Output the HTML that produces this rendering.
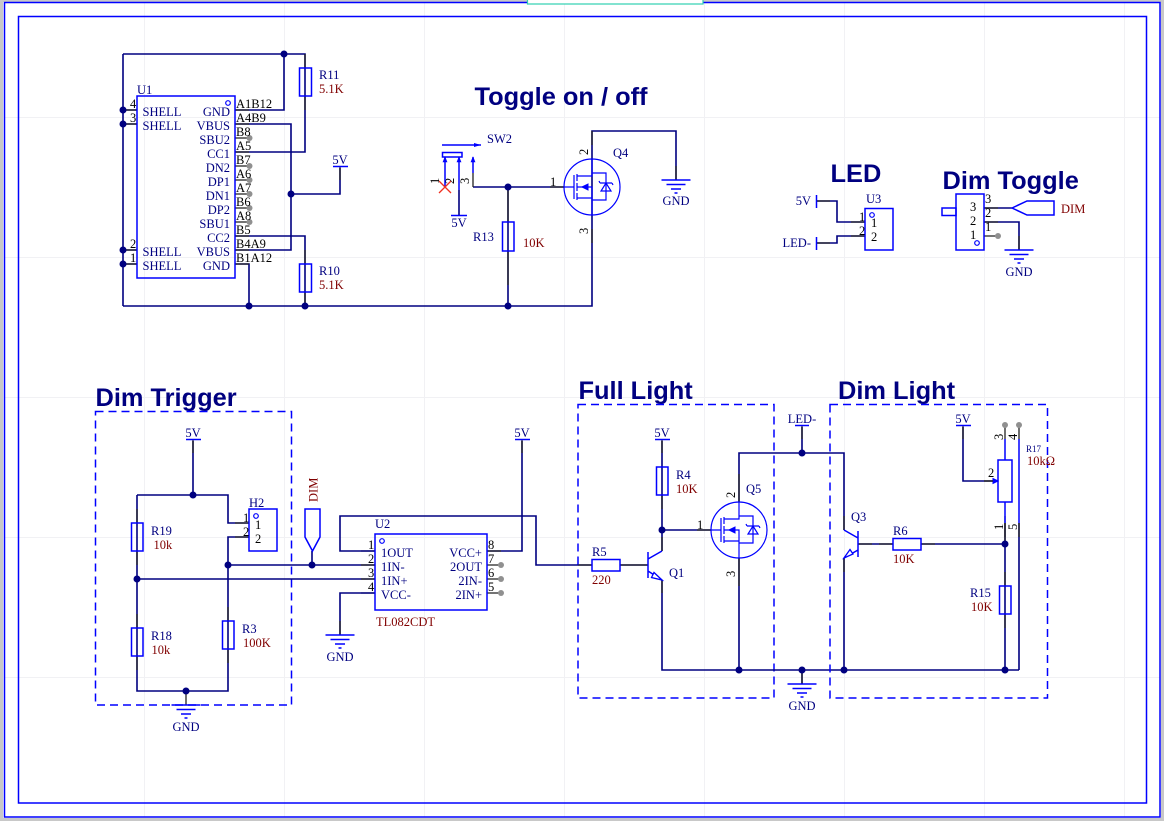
<!DOCTYPE html>
<html><head><meta charset="utf-8"><title>Schematic</title>
<style>
html,body{margin:0;padding:0;background:#fff;width:1164px;height:821px;overflow:hidden}
svg{display:block;position:absolute;left:0;top:0}
text{font-family:"Liberation Serif",serif;font-size:12.5px}
.r{fill:#000080}.v{fill:#800000}.b{fill:#000}.n{fill:#000080}
.t{font-family:"Liberation Sans",sans-serif;font-weight:700;font-size:25.4px;fill:#000080}
.m{text-anchor:middle}.e{text-anchor:end}
.w{fill:none;stroke:#000080;stroke-width:1.6}
.p{fill:none;stroke:#222;stroke-width:1.3}
.s{fill:none;stroke:#0000ff;stroke-width:1.5}
.bw{fill:none;stroke:#0000ff;stroke-width:1.2}
.d{fill:none;stroke:#0000ff;stroke-width:1.5;stroke-dasharray:8 5}
.j{fill:#000080}.nc{fill:#909090}
</style></head><body>
<svg width="1164" height="821" viewBox="0 0 1164 821" xmlns="http://www.w3.org/2000/svg">
<defs>
<g id="mos">
<circle cx="0" cy="0" r="28" class="bw"/>
<path class="bw" d="M-28 0H-18M-18 -12V12M-15 -13V-6M-15 -4V4M-15 6V13M-15 -11H0V-28M-15 11H0V28M-15 0H0V11M0 -14H14V13H0"/>
<path d="M-10 0L-4 -3V3Z" fill="#0000ff" stroke="#0000ff"/>
<path class="bw" d="M9 4H19L14 -4ZM8 -4H20M8 -4L7 -6M20 -4L21 -2"/>
</g>
<g id="gnd"><path class="s" d="M-14.500 0H14.500M-9.500 4.500H9.500M-5 9H5M-1.500 13H1.500"/></g>
</defs>

<!-- page chrome -->
<rect x="0" y="0" width="1164" height="821" fill="#c8c8c8"/>
<rect x="3" y="2" width="1158" height="816" fill="#fff"/>
<g stroke="#f1f1f4" stroke-width="1" fill="none">
<path d="M144.500 3V817M284.500 3V817M424.500 3V817M564.500 3V817M704.500 3V817M844.500 3V817M984.500 3V817M1124.500 3V817"/>
<path d="M4 117.500H1160M4 257.500H1160M4 397.500H1160M4 537.500H1160M4 677.500H1160"/>
</g>
<rect x="4.500" y="2.500" width="1155.500" height="814.500" fill="none" stroke="#0000ff" stroke-width="1.5"/>
<rect x="18.500" y="16.500" width="1128" height="786.500" fill="none" stroke="#0000ff" stroke-width="1.5"/>
<rect x="527.500" y="-2" width="175.500" height="6" fill="#fff" stroke="#2fd0b0" stroke-width="1.2"/>

<!-- ===== U1 ===== -->
<path class="w" d="M235 110H284V54M123 54H305V110M305 110V152H235M123 54V306M235 124H291V250H235M291 194H340V168M235 236H305V306M235 264H249V306M123 306H592V131H676V180M123 110H137M123 124H137M123 250H137M123 264H137"/>
<path class="p" d="M123 110H137M123 124H137M123 250H137M123 264H137M235 110H249M235 124H249M235 138H249M235 152H249M235 166H249M235 180H249M235 194H249M235 208H249M235 222H249M235 236H249M235 250H249M235 264H249M305 96V110M305 54V68M305 250V264M305 292V306M340 166V180"/>
<rect x="137" y="96" width="98" height="182" fill="none" class="s"/>
<circle cx="228" cy="103" r="2.300" class="bw"/>
<rect x="299.500" y="68" width="12" height="28" fill="#fff" class="s"/>
<rect x="299.500" y="264" width="12" height="28" fill="#fff" class="s"/>
<path class="s" d="M333 166.500H348"/>
<g class="nc"><circle cx="249.500" cy="138" r="3"/><circle cx="249.500" cy="166" r="3"/><circle cx="249.500" cy="180" r="3"/><circle cx="249.500" cy="194" r="3"/><circle cx="249.500" cy="208" r="3"/><circle cx="249.500" cy="222" r="3"/></g>
<g class="j"><circle cx="284" cy="54" r="3.500"/><circle cx="123" cy="110" r="3.500"/><circle cx="123" cy="124" r="3.500"/><circle cx="123" cy="250" r="3.500"/><circle cx="123" cy="264" r="3.500"/><circle cx="291" cy="194" r="3.500"/><circle cx="249" cy="306" r="3.500"/><circle cx="305" cy="306" r="3.500"/><circle cx="508" cy="306" r="3.500"/></g>
<text x="137" y="94" class="r">U1</text>
<text x="319" y="79" class="r">R11</text><text x="319" y="93" class="v">5.1K</text>
<text x="319" y="275" class="r">R10</text><text x="319" y="289" class="v">5.1K</text>
<text x="340" y="164" class="r m">5V</text>
<g class="b"><text x="130" y="108">4</text><text x="130" y="122">3</text><text x="130" y="248">2</text><text x="130" y="262">1</text></g>
<g class="n"><text x="142.500" y="116">SHELL</text><text x="142.500" y="130">SHELL</text><text x="142.500" y="256">SHELL</text><text x="142.500" y="270">SHELL</text>
<g class="e"><text x="230" y="116">GND</text><text x="230" y="130">VBUS</text><text x="230" y="144">SBU2</text><text x="230" y="158">CC1</text><text x="230" y="172">DN2</text><text x="230" y="186">DP1</text><text x="230" y="200">DN1</text><text x="230" y="214">DP2</text><text x="230" y="228">SBU1</text><text x="230" y="242">CC2</text><text x="230" y="256">VBUS</text><text x="230" y="270">GND</text></g></g>
<g class="b"><text x="236" y="108">A1B12</text><text x="236" y="122">A4B9</text><text x="236" y="136">B8</text><text x="236" y="150">A5</text><text x="236" y="164">B7</text><text x="236" y="178">A6</text><text x="236" y="192">A7</text><text x="236" y="206">B6</text><text x="236" y="220">A8</text><text x="236" y="234">B5</text><text x="236" y="248">B4A9</text><text x="236" y="262">B1A12</text></g>

<!-- ===== Toggle ===== -->
<text x="474.500" y="105" class="t">Toggle on / off</text>
<path class="w" d="M473 187H564M508 187V306M459 190V215"/>
<path class="p" d="M473 173V187M550 187H564M508 187V222M508 251V285M592 131V145M592 229V243M676 166V180"/>
<path class="s" d="M442 145H481"/><path d="M474 143L481 145L474 147Z" fill="#0000ff"/>
<rect x="442.500" y="152.500" width="19.500" height="4.500" fill="none" class="s"/>
<path class="s" d="M445 157V187M459 157V190M473 157V173M451 215.500H467"/>
<path d="M445 157L443 162H447ZM459 157L457 162H461ZM473 157L471 162H475Z" fill="#0000ff" stroke="#0000ff" stroke-width=".6"/>
<path d="M439 181L451 193M451 181L439 193" stroke="#f03020" stroke-width="1.300" fill="none"/>
<g class="b"><text transform="translate(439,184) rotate(-90)">1</text><text transform="translate(454,184) rotate(-90)">2</text><text transform="translate(469,184) rotate(-90)">3</text></g>
<use href="#mos" x="592" y="187"/>
<rect x="502.500" y="222" width="11.500" height="29" fill="#fff" class="s"/>
<use href="#gnd" x="676" y="180"/>
<circle cx="508" cy="187" r="3.500" class="j"/>
<text x="487" y="143" class="r">SW2</text>
<text x="459" y="227" class="r m">5V</text>
<text x="473" y="241" class="r">R13</text><text x="523" y="247" class="v">10K</text>
<text x="613" y="157" class="r">Q4</text>
<text x="676" y="205" class="r m">GND</text>
<g class="b"><text x="550" y="186">1</text><text transform="translate(588,155) rotate(-90)">2</text><text transform="translate(588,234) rotate(-90)">3</text></g>

<!-- ===== LED ===== -->
<text x="830.500" y="182" class="t">LED</text>
<path class="w" d="M816 201H837V222H865M816 243H837V236H865"/>
<path class="p" d="M816 201H830M816 243H830M851 222H865M851 236H865"/>
<path class="s" d="M816.500 195V208M816.500 237V250"/>
<rect x="865" y="208.500" width="28" height="41.500" fill="#fff" class="s"/>
<circle cx="872" cy="215" r="2.300" class="bw"/>
<text x="811" y="205" class="r e">5V</text><text x="811" y="247" class="r e">LED-</text>
<text x="866" y="203" class="r">U3</text>
<g class="b"><text x="859" y="221">1</text><text x="859" y="235">2</text><text x="871" y="227">1</text><text x="871" y="241">2</text></g>

<!-- ===== Dim Toggle ===== -->
<text x="942.500" y="189" class="t">Dim Toggle</text>
<path class="w" d="M984 208H1012M984 222H1019V250"/>
<path class="p" d="M984 208H998M984 222H998M984 236H998M1019 236V250"/>
<rect x="956" y="194" width="28" height="56" fill="#fff" class="s"/>
<rect x="942" y="208" width="14" height="7.500" fill="#fff" class="s"/>
<circle cx="977" cy="243" r="2.300" class="bw"/>
<path class="s" d="M1012 208L1027 201H1054V215H1027Z" fill="#fff"/>
<circle cx="998" cy="236" r="3" class="nc"/>
<use href="#gnd" x="1019" y="250"/>
<text x="1019" y="276" class="r m">GND</text>
<text x="1061" y="213" class="v">DIM</text>
<g class="b"><text x="970" y="211">3</text><text x="970" y="225">2</text><text x="970" y="239">1</text><text x="985" y="203">3</text><text x="985" y="217">2</text><text x="985" y="231">1</text></g>

<!-- ===== Dim Trigger ===== -->
<text x="95.500" y="406" class="t">Dim Trigger</text>
<rect x="95.500" y="411.500" width="196" height="293.500" class="d"/>
<path class="w" d="M193 441V495M137 495H228V523H249M137 495V691H228V537H249M137 579H375M228 565H375M312 551V565"/>
<path class="p" d="M193 439V453M137 509V523M137 551V565M137 614V628M137 656V670M228 607V621M228 649V663M235 523H249M235 537H249M361 551H375M361 565H375M361 579H375M361 593H375M186 691V705"/>
<rect x="131.500" y="523" width="11.500" height="28" fill="#fff" class="s"/>
<rect x="131.500" y="628" width="11.500" height="28" fill="#fff" class="s"/>
<rect x="222.500" y="621" width="11.500" height="28" fill="#fff" class="s"/>
<rect x="249" y="509" width="28" height="42" fill="#fff" class="s"/>
<circle cx="256" cy="516" r="2.300" class="bw"/>
<path class="s" d="M186 439.500H201"/>
<use href="#gnd" x="186" y="705"/>
<path class="s" d="M305 509H320V537L312.500 551L305 537Z" fill="#fff"/>
<g class="j"><circle cx="193" cy="495" r="3.500"/><circle cx="137" cy="579" r="3.500"/><circle cx="228" cy="565" r="3.500"/><circle cx="312" cy="565" r="3.500"/><circle cx="186" cy="691" r="3.500"/></g>
<text x="193" y="437" class="r m">5V</text>
<text x="151" y="535" class="r">R19</text><text x="153.500" y="549" class="v">10k</text>
<text x="151" y="640" class="r">R18</text><text x="151.500" y="654" class="v">10k</text>
<text x="242" y="633" class="r">R3</text><text x="243" y="647" class="v">100K</text>
<text x="249" y="507" class="r">H2</text>
<text x="186" y="731" class="r m">GND</text>
<text transform="translate(317.500,502) rotate(-90)" class="v">DIM</text>
<g class="b"><text x="243" y="522">1</text><text x="243" y="536">2</text><text x="255" y="529">1</text><text x="255" y="543">2</text></g>

<!-- ===== U2 ===== -->
<path class="w" d="M375 551H340V516H536V565H592M487 551H522V441M375 593H340V635"/>
<path class="p" d="M522 439V453M340 621V635M487 551H501M487 565H501M487 579H501M487 593H501M578 565H592"/>
<rect x="375" y="534" width="112" height="76" fill="none" class="s"/>
<circle cx="382" cy="541" r="2.300" class="bw"/>
<path class="s" d="M515 439.500H530"/>
<use href="#gnd" x="340" y="635"/>
<g class="nc"><circle cx="501" cy="565" r="3"/><circle cx="501" cy="579" r="3"/><circle cx="501" cy="593" r="3"/></g>
<text x="375" y="528" class="r">U2</text>
<text x="522" y="437" class="r m">5V</text>
<text x="376" y="626" class="v">TL082CDT</text>
<text x="340" y="661" class="r m">GND</text>
<g class="b"><text x="368" y="549">1</text><text x="368" y="563">2</text><text x="368" y="577">3</text><text x="368" y="591">4</text><text x="488" y="549">8</text><text x="488" y="563">7</text><text x="488" y="577">6</text><text x="488" y="591">5</text></g>
<g class="n"><text x="381" y="557">1OUT</text><text x="381" y="571">1IN-</text><text x="381" y="585">1IN+</text><text x="381" y="599">VCC-</text>
<g class="e"><text x="482" y="557">VCC+</text><text x="482" y="571">2OUT</text><text x="482" y="585">2IN-</text><text x="482" y="599">2IN+</text></g></g>

<!-- ===== Full Light ===== -->
<text x="578.500" y="399" class="t">Full Light</text>
<rect x="578" y="404.500" width="196" height="293.500" class="d"/>
<path class="w" d="M662 441V551M662 530H711M662 580V670H1019M739 558V670M739 502V453H844V530M802 427V453M802 670V684M620 565H648M921 544H1005M858 544H893M844 558V670M1005 544V670M1005 523V544M1019 523V670M963 427V481H998"/>
<path class="p" d="M662 439V453M662 495V509M662 537V551M662 580V593M697 530H711M620 565H634M634 565H648M739 558V586M739 474V502M802 425V439M802 670V684M844 516V530M844 558V572M872 544H858M921 544H935M893 544H879M1005 530V544M1005 572V586M1005 614V628M1005 516V530M1019 523V537M963 425V439M984 481H998"/>
<rect x="656.500" y="467" width="11.500" height="28" fill="#fff" class="s"/>
<rect x="592" y="559.500" width="28" height="11.500" fill="#fff" class="s"/>
<path class="s" d="M655 439.500H670M795 425.500H809"/>
<path class="s" d="M648 552V578M648 559L662 551M648 571L662 580"/>
<path d="M662 580L654 572.500L651.500 577.500Z" fill="#fff" stroke="#0000ff" stroke-width="1.300"/>
<use href="#mos" x="739" y="530"/>
<use href="#gnd" x="802" y="684"/>
<g class="j"><circle cx="662" cy="530" r="3.500"/><circle cx="739" cy="670" r="3.500"/><circle cx="802" cy="453" r="3.500"/><circle cx="802" cy="670" r="3.500"/></g>
<text x="662" y="437" class="r m">5V</text>
<text x="802" y="423" class="r m">LED-</text>
<text x="676" y="479" class="r">R4</text><text x="676" y="493" class="v">10K</text>
<text x="592" y="556" class="r">R5</text><text x="592" y="584" class="v">220</text>
<text x="669" y="577" class="r">Q1</text>
<text x="746" y="493" class="r">Q5</text>
<text x="802" y="710" class="r m">GND</text>
<g class="b"><text x="697" y="529">1</text><text transform="translate(735,498) rotate(-90)">2</text><text transform="translate(735,577) rotate(-90)">3</text></g>

<!-- ===== Dim Light ===== -->
<text x="838" y="399" class="t">Dim Light</text>
<rect x="830" y="404.500" width="217.500" height="293.500" class="d"/>
<path class="s" d="M858 531V557M858 538L844 530M858 550L844 558"/>
<path d="M844 558L853 554L850 549.500Z" fill="#fff" stroke="#0000ff" stroke-width="1.300"/>
<rect x="893" y="538.500" width="28" height="11.500" fill="#fff" class="s"/>
<rect x="999.500" y="586" width="11.500" height="28" fill="#fff" class="s"/>
<path class="s" d="M1005 439V460M1005 502V523M1019 439V523M956 425.500H971"/>
<rect x="998" y="460" width="14" height="42" fill="#fff" class="s"/>
<path d="M998 481L993 478.500V483.500Z" fill="#0000ff" stroke="#0000ff"/>
<path class="p" d="M1005 425V439M1019 425V439M1005 523V537M984 481H993"/>
<g class="nc"><circle cx="1005" cy="425" r="3"/><circle cx="1019" cy="425" r="3"/></g>
<g class="j"><circle cx="844" cy="670" r="3.500"/><circle cx="1005" cy="544" r="3.500"/><circle cx="1005" cy="670" r="3.500"/></g>
<text x="963" y="423" class="r m">5V</text>
<text x="851" y="521" class="r">Q3</text>
<text x="893" y="535" class="r">R6</text><text x="893" y="563" class="v">10K</text>
<text x="970" y="597" class="r">R15</text><text x="971" y="611" class="v">10K</text>
<text x="1026" y="452" class="r" style="font-size:9px">R17</text><text x="1027" y="465" class="v">10kΩ</text>
<g class="b"><text x="988" y="477">2</text><text transform="translate(1003,440) rotate(-90)">3</text><text transform="translate(1017,440) rotate(-90)">4</text><text transform="translate(1003,530) rotate(-90)">1</text><text transform="translate(1017,530) rotate(-90)">5</text></g>
</svg>
</body></html>
